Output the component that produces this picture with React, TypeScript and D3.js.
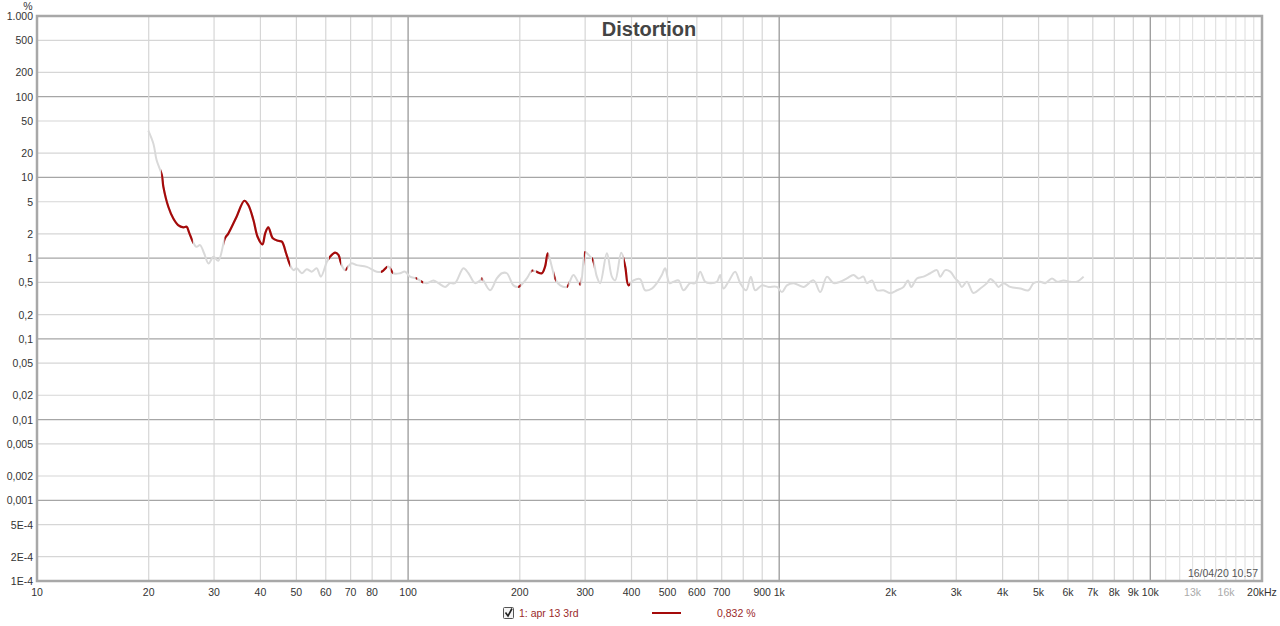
import React from "react";
import * as d3 from "d3";

const W = 1280;
const H = 626;

// Distortion curve (Hz, %)
const freqs = [
  19.95, 20.6, 21.0, 21.7, 21.9, 22.6, 23.3, 24.0, 24.8, 25.3, 25.7, 26.3, 26.9, 27.5, 28.2, 29.0, 29.9, 30.8,
  32.1, 32.8, 34.5, 36.2, 37.1, 38.3, 39.3, 40.5, 41.2, 42.0, 43.2, 44.7, 45.7, 46.9, 48.1, 49.1, 50.1, 51.7,
  53.3, 55.0, 56.7, 58.2, 60.4, 61.6, 63.6, 64.9, 66.0, 67.6, 70.2, 72.7, 77.4, 82.3, 84.9, 88.5, 91.3, 95.1,
  98.1, 101.2, 105.5, 108.9, 112.3, 117.0, 120.7, 125.8, 129.8, 133.8, 141.0, 145.4, 151.5, 156.4, 158.0,
  166.3, 173.4, 178.9, 184.5, 192.3, 198.3, 208.9, 215.5, 221.3, 229.3, 234.0, 237.9, 243.9, 248.9, 256.9,
  267.8, 279.0, 290.8, 300.0, 306.2, 314.7, 322.6, 329.3, 343.3, 354.1, 361.4, 375.2, 384.6, 392.6, 404.9,
  421.9, 435.3, 453.8, 468.1, 482.9, 492.9, 506.3, 519.0, 535.4, 552.1, 575.5, 593.7, 612.4, 631.7, 651.6,
  679.3, 693.4, 707.7, 730.0, 761.0, 785.1, 814.7, 838.8, 861.6, 898.2, 935.8, 985.8, 1017, 1049, 1093,
  1163, 1238, 1290, 1345, 1401, 1460, 1522, 1586, 1636, 1687, 1723, 1778, 1834, 1910, 1992, 2076, 2163,
  2223, 2269, 2350, 2449, 2553, 2661, 2716, 2802, 2890, 2981, 3043, 3107, 3205, 3339, 3482, 3630, 3706,
  3823, 3902, 4024, 4194, 4462, 4699, 4847, 5053, 5212, 5433, 5604, 5839, 6087, 6345, 6612,
];
const thd = [
  38, 26, 16.4, 10.7, 7.7, 4.3, 3.1, 2.57, 2.41, 2.45, 2.07, 1.6, 1.38, 1.45, 1.15, 0.86, 1.04, 0.93,
  1.76, 2.03, 3.26, 5.14, 4.55, 2.97, 1.84, 1.48, 2.03, 2.41, 1.76, 1.64, 1.6, 1.15, 0.82, 0.71, 0.75, 0.65,
  0.73, 0.68, 0.75, 0.59, 0.9, 1.04, 1.17, 1.1, 0.86, 0.71, 0.86, 0.82, 0.78, 0.68, 0.68, 0.79, 0.65, 0.65,
  0.68, 0.59, 0.56, 0.51, 0.49, 0.53, 0.49, 0.44, 0.49, 0.49, 0.75, 0.65, 0.49, 0.53, 0.56,
  0.4, 0.56, 0.65, 0.65, 0.46, 0.44, 0.56, 0.7, 0.68, 0.65, 0.79, 1.15, 0.79, 0.56, 0.46,
  0.44, 0.62, 0.47, 1.19, 1.1, 0.95, 0.59, 0.49, 1.15, 0.59, 0.53, 1.17, 0.79, 0.46, 0.53,
  0.55, 0.4, 0.42, 0.49, 0.62, 0.75, 0.49, 0.51, 0.53, 0.4, 0.49, 0.49, 0.68, 0.51, 0.49,
  0.51, 0.62, 0.42, 0.51, 0.68, 0.49, 0.4, 0.59, 0.4, 0.46, 0.44, 0.44, 0.38, 0.46, 0.49,
  0.44, 0.53, 0.38, 0.59, 0.49, 0.51, 0.56, 0.62, 0.56, 0.59, 0.49, 0.53, 0.4, 0.4, 0.37, 0.4, 0.44,
  0.53, 0.44, 0.56, 0.59, 0.65, 0.71, 0.59, 0.71, 0.68, 0.56, 0.51, 0.44, 0.51, 0.37, 0.42, 0.49, 0.55,
  0.49, 0.44, 0.49, 0.44, 0.42, 0.4, 0.49, 0.51, 0.49, 0.56, 0.51, 0.53, 0.51, 0.51, 0.59,
];

// Frequency ranges where the curve is drawn in red
const redRanges: [number, number][] = [
  [21.6, 26.3], [32.0, 48.1], [61.2, 66.0], [67.8, 68.6], [84.5, 87.8], [89.8, 91.0],
  [104.8, 105.8], [108.4, 109.8], [157.5, 158.7], [198, 201], [215, 217.5], [221.3, 238.8],
  [247.7, 250], [267.8, 270.5], [289, 291.5], [298, 300.4], [313, 316], [381.5, 396.4],
];

const yTicks = [1000, 500, 200, 100, 50, 20, 10, 5, 2, 1, 0.5, 0.2, 0.1, 0.05, 0.02, 0.01, 0.005, 0.002, 0.001, 5e-4, 2e-4, 1e-4];
const yTickLabels = ["1.000", "500", "200", "100", "50", "20", "10", "5", "2", "1", "0,5", "0,2", "0,1", "0,05", "0,02", "0,01", "0,005", "0,002", "0,001", "5E-4", "2E-4", "1E-4"];

const xTicks = [10, 20, 30, 40, 50, 60, 70, 80, 100, 200, 300, 400, 500, 600, 700, 900, 1000, 2000, 3000, 4000, 5000, 6000, 7000, 8000, 9000, 10000, 13000, 16000, 20000];
const xTickLabels = ["10", "20", "30", "40", "50", "60", "70", "80", "100", "200", "300", "400", "500", "600", "700", "900", "1k", "2k", "3k", "4k", "5k", "6k", "7k", "8k", "9k", "10k", "13k", "16k", "20kHz"];
const xDimTicks = [13000, 16000];

const title = "Distortion";
const legendName = "1: apr 13 3rd";
const legendValue = "0,832 %";
const stamp = "16/04/20 10.57";

const FONT = "'Liberation Sans', Arial, sans-serif";

export default function App() {
  const left = 37, right = 1262, top = 16, bottom = 581;
  const x = d3.scaleLog().domain([10, 20000]).range([left, right]);
  const y = d3.scaleLog().domain([1e-4, 1000]).range([bottom, top]);

  // grid frequencies
  const xGrid: { f: number; major: boolean }[] = [];
  for (let k = 1; k <= 3; k++) {
    for (let m = 1; m <= 9; m++) xGrid.push({ f: m * Math.pow(10, k), major: m === 1 });
  }
  for (let m = 10; m <= 20; m++) xGrid.push({ f: m * 1000, major: m === 10 });

  const yGrid: { v: number; major: boolean }[] = [];
  for (let k = -4; k <= 3; k++) {
    [1, 2, 5].forEach((m) => {
      const v = m * Math.pow(10, k);
      if (v <= 1000.0001) yGrid.push({ v, major: m === 1 });
    });
  }

  const pts = freqs.map((f, i) => [f, thd[i]] as [number, number]);
  const line = d3
    .line<[number, number]>()
    .x((d) => x(d[0]))
    .y((d) => y(d[1]))
    .curve(d3.curveCatmullRom.alpha(0.5));
  const pathD = line(pts) || "";

  return (
    <svg width={W} height={H} style={{ position: "absolute", left: 0, top: 0, background: "#fff" }} fontFamily={FONT}>
      <defs>
        <clipPath id="redclip">
          {redRanges.map(([a, b], i) => (
            <rect key={i} x={x(a)} y={top} width={Math.max(0.8, x(b) - x(a))} height={bottom - top} />
          ))}
        </clipPath>
        <clipPath id="plotclip">
          <rect x={left} y={top} width={right - left} height={bottom - top} />
        </clipPath>
      </defs>

      {/* grid */}
      {yGrid.map((g, i) => (
        <line key={"yg" + i} x1={left} x2={right} y1={y(g.v)} y2={y(g.v)}
          stroke={g.major ? "#a6a6a6" : "#d6d6d6"} strokeWidth={g.major ? 1.3 : 1.2} />
      ))}
      {xGrid.map((g, i) => (
        <line key={"xg" + i} x1={x(g.f)} x2={x(g.f)} y1={top} y2={bottom}
          stroke={g.major ? "#9a9a9a" : g.f > 10000 ? "#e2e2e2" : "#d6d6d6"} strokeWidth={g.major ? 1.3 : 1.2} />
      ))}

      {/* curves */}
      <g clipPath="url(#plotclip)">
        <path d={pathD} fill="none" stroke="#d9d9d9" strokeWidth={2} strokeLinejoin="round" />
        <path d={pathD} fill="none" stroke="#a50a0a" strokeWidth={2.2} strokeLinejoin="round" clipPath="url(#redclip)" />
      </g>

      {/* frame */}
      <rect x={left} y={top} width={right - left} height={bottom - top} fill="none" stroke="#a8a8a8" strokeWidth={2.5} />

      {/* title */}
      <text x={649} y={36} textAnchor="middle" fontSize={20} fontWeight="bold" fill="#444">{title}</text>

      {/* y labels */}
      <text x={28} y={10} textAnchor="middle" fontSize={10.5} fill="#333">%</text>
      {yTicks.map((v, i) => (
        <text key={"yl" + i} x={33} y={y(v) + 4} textAnchor="end" fontSize={10.5} fill="#333">{yTickLabels[i]}</text>
      ))}

      {/* x labels */}
      {xTicks.map((f, i) => (
        <text key={"xl" + i} x={x(f)} y={596} textAnchor="middle" fontSize={10.5}
          fill={xDimTicks.includes(f) ? "#aaaaaa" : "#333"}>{xTickLabels[i]}</text>
      ))}

      {/* timestamp */}
      <text x={1258} y={577} textAnchor="end" fontSize={10.5} fill="#555">{stamp}</text>

      {/* legend */}
      <g>
        <rect x={503.5} y={607.5} width={10} height={11} fill="#f4f4f4" stroke="#555" strokeWidth={1} rx={1} />
        <path d="M505.5 612.5 L508 616 L512 608.5" fill="none" stroke="#222" strokeWidth={1.6} />
        <text x={519} y={617} fontSize={10.5} fill="#9b2a2a">{legendName}</text>
        <line x1={652} x2={681} y1={613} y2={613} stroke="#a50a0a" strokeWidth={2} />
        <text x={717} y={617} fontSize={10.5} fill="#9b2a2a">{legendValue}</text>
      </g>
    </svg>
  );
}
